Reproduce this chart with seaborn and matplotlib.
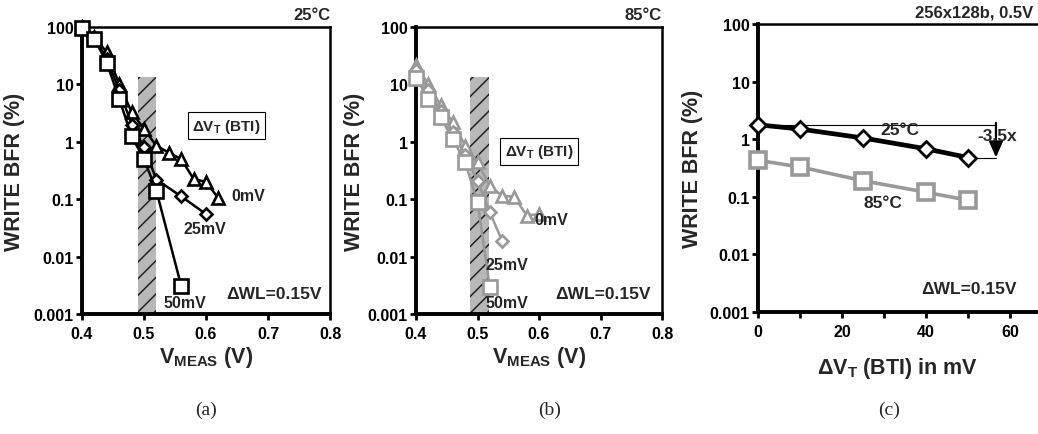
import numpy as np
import pandas as pd
import matplotlib
matplotlib.use("Agg")
import matplotlib.pyplot as plt
import seaborn as sns
from matplotlib.ticker import FixedLocator, FixedFormatter, NullLocator

# ---------------- data ----------------
# Panel (a) 25°C
a_v0 = [0.40, 0.42, 0.44, 0.46, 0.48, 0.50, 0.52, 0.54, 0.56, 0.58, 0.60, 0.62]
a_bfr0 = [100, 68, 36, 10.2, 3.3, 1.67, 0.85, 0.65, 0.5, 0.225, 0.2, 0.104]
a_v25 = [0.40, 0.42, 0.44, 0.46, 0.48, 0.50, 0.52, 0.56, 0.60]
a_bfr25 = [98, 65, 28, 8.0, 2.0, 0.8, 0.22, 0.112, 0.055]
a_v50 = [0.40, 0.42, 0.44, 0.46, 0.48, 0.50, 0.52, 0.56]
a_bfr50 = [95, 63, 23.6, 5.6, 1.25, 0.5, 0.14, 0.0031]

# Panel (b) 85°C
b_v0 = [0.40, 0.42, 0.44, 0.46, 0.48, 0.50, 0.52, 0.54, 0.56, 0.58, 0.60]
b_bfr0 = [22, 10.2, 4.3, 2.2, 0.86, 0.44, 0.17, 0.115, 0.11, 0.052, 0.055]
b_v25 = [0.40, 0.42, 0.44, 0.46, 0.48, 0.50, 0.52, 0.54]
b_bfr25 = [18, 8.0, 3.5, 1.5, 0.6, 0.21, 0.059, 0.019]
b_v50 = [0.40, 0.42, 0.44, 0.46, 0.48, 0.50, 0.52]
b_bfr50 = [13, 5.6, 2.67, 1.1, 0.44, 0.089, 0.003]

# Panel (c) 256x128b, 0.5V
c_dvt = [0, 10, 25, 40, 50]
c_bfr25C = [1.78, 1.5, 1.05, 0.68, 0.48]
c_bfr85C = [0.43, 0.33, 0.19, 0.12, 0.087]

y_ticks = [0.001, 0.01, 0.1, 1, 10, 100]
y_ticklabels = ["0.001", "0.01", "0.1", "1", "10", "100"]
vmeas_ticks = [0.4, 0.5, 0.6, 0.7, 0.8]
vmeas_ticklabels = ["0.4", "0.5", "0.6", "0.7", "0.8"]
dvt_ticks = [0, 20, 40, 60]
dvt_ticklabels = ["0", "20", "40", "60"]

# ---------------- style ----------------
sns.set_theme(style="ticks")
plt.rcParams["font.family"] = ["Liberation Sans", "DejaVu Sans"]
plt.rcParams["font.weight"] = "bold"
plt.rcParams["mathtext.fontset"] = "custom"
plt.rcParams["mathtext.rm"] = "Liberation Sans:bold"
plt.rcParams["mathtext.it"] = "Liberation Sans:bold"
plt.rcParams["mathtext.bf"] = "Liberation Sans:bold"
plt.rcParams["hatch.linewidth"] = 1.1

W, H = 1038, 435
fig = plt.figure(figsize=(W / 100, H / 100), dpi=100)

TICK_FS = 11.5
LAB_FS = 15.5
ANN_FS = 12.5


def px_axes(left, right, top, bottom):
    return fig.add_axes([left / W, (H - bottom) / H, (right - left) / W, (bottom - top) / H])


def style_axes(ax, show_right=True):
    ax.set_yscale("log")
    ax.set_ylim(0.001, 100)
    ax.yaxis.set_major_locator(FixedLocator(y_ticks))
    ax.yaxis.set_major_formatter(FixedFormatter(y_ticklabels))
    ax.yaxis.set_minor_locator(NullLocator())
    for s in ["left", "bottom"]:
        ax.spines[s].set_linewidth(2.8)
        ax.spines[s].set_color("black")
    ax.spines["top"].set_linewidth(1.8)
    ax.spines["top"].set_color("black")
    ax.spines["top"].set_visible(True)
    ax.spines["right"].set_visible(show_right)
    ax.spines["right"].set_linewidth(1.8)
    ax.spines["right"].set_color("black")
    ax.tick_params(axis="both", which="both", direction="out", length=4, width=2,
                   labelsize=TICK_FS, colors="black", pad=2)
    ax.tick_params(axis="x", pad=5)
    ax.set_facecolor("white")
    ax.grid(False)


def bold_ticks(ax):
    for lab in ax.get_xticklabels() + ax.get_yticklabels():
        lab.set_fontweight("bold")


def draw_series(ax, x, y, marker, color, ms, mew, lw, z):
    df = pd.DataFrame({"x": x, "y": y})
    sns.lineplot(data=df, x="x", y="y", ax=ax, color=color, lw=lw, marker=marker,
                 markersize=ms, markerfacecolor="white", markeredgecolor=color,
                 markeredgewidth=mew, zorder=z, clip_on=False, legend=False)


def vmeas_panel(ax, color, series, band, box_xy, labels, title, ylab_x, wl_x):
    style_axes(ax)
    ax.set_xlim(0.4, 0.8)
    ax.xaxis.set_major_locator(FixedLocator(vmeas_ticks))
    ax.xaxis.set_major_formatter(FixedFormatter(vmeas_ticklabels))
    ax.xaxis.set_minor_locator(NullLocator())
    # hatched band
    ax.fill_between(band[:2], [0.001, 0.001], [band[2], band[2]], facecolor="#b8b8b8",
                    edgecolor="#222222", hatch="//", linewidth=0, zorder=1)
    for (x, y, m, ms) in series:
        draw_series(ax, x, y, m, color, ms, 1.9, 1.8, 3)
    ax.text(box_xy[0], box_xy[1], "ΔV$_{\\mathrm{T}}$ (BTI)", fontsize=11, fontweight="bold",
            ha="center", va="center", zorder=5,
            bbox=dict(boxstyle="square,pad=0.3", fc="white", ec="black", lw=0.8))
    for (tx, ty, s) in labels:
        ax.text(tx, ty, s, fontsize=11.5, fontweight="bold", ha="center", va="center", zorder=6)
    ax.text(wl_x, 0.07, "ΔWL=0.15V", transform=ax.transAxes, fontsize=ANN_FS,
            fontweight="bold", ha="right", va="center")
    ax.text(1.0, 1.045, title, transform=ax.transAxes, fontsize=12, fontweight="bold",
            ha="right", va="center")
    ax.set_xlabel("V$_{\\mathrm{MEAS}}$ (V)", fontsize=LAB_FS, fontweight="bold")
    ax.set_ylabel("WRITE BFR (%)", fontsize=LAB_FS, fontweight="bold")
    ax.yaxis.set_label_coords(ylab_x, 0.5)
    ax.xaxis.set_label_coords(0.5, -0.105)
    bold_ticks(ax)


# ---------------- panel (a) ----------------
ax_a = px_axes(82, 330, 28, 315)
vmeas_panel(ax_a, "black",
            [(a_v0, a_bfr0, "^", 9), (a_v25, a_bfr25, "D", 6.5), (a_v50, a_bfr50, "s", 9.5)],
            (0.49, 0.52, 13.6), (0.633, 1.9),
            [(0.668, 0.118, "0mV"), (0.598, 0.031, "25mV"), (0.566, 0.0016, "50mV")],
            "25°C", -0.23, 0.965)

# ---------------- panel (b) ----------------
ax_b = px_axes(416, 662, 28, 315)
grey = "#999999"
vmeas_panel(ax_b, grey,
            [(b_v0, b_bfr0, "^", 9), (b_v25, b_bfr25, "D", 6.5), (b_v50, b_bfr50, "s", 9.5)],
            (0.488, 0.519, 13.6), (0.6, 0.68),
            [(0.62, 0.044, "0mV"), (0.547, 0.0074, "25mV"), (0.547, 0.0016, "50mV")],
            "85°C", -0.207, 0.955)

# ---------------- panel (c) ----------------
ax_c = px_axes(758, 1038, 25, 313)
style_axes(ax_c, show_right=False)
ax_c.set_xlim(0, 66.6)
ax_c.xaxis.set_major_locator(FixedLocator(dvt_ticks))
ax_c.xaxis.set_major_formatter(FixedFormatter(dvt_ticklabels))
ax_c.xaxis.set_minor_locator(FixedLocator([10, 30, 50]))
ax_c.tick_params(axis="x", which="minor", length=4, width=2)
bold_ticks(ax_c)

# reference lines and arrow
ax_c.plot([0, 56.6], [c_bfr25C[0], c_bfr25C[0]], color="black", lw=0.8, zorder=2)
ax_c.plot([50, 56.6], [c_bfr25C[-1], c_bfr25C[-1]], color="black", lw=0.8, zorder=2)
ax_c.annotate("", xy=(56.6, 0.43), xytext=(56.6, 2.15),
              arrowprops=dict(arrowstyle="-|>,head_width=0.35,head_length=0.8",
                              color="black", lw=1.6), zorder=2)
ax_c.text(56.8, 1.16, "-3.5x", fontsize=ANN_FS, fontweight="bold", ha="center", va="center",
          zorder=3)

draw_series(ax_c, c_dvt, c_bfr85C, "s", grey, 11.5, 2.6, 2.6, 3)
draw_series(ax_c, c_dvt, c_bfr25C, "D", "black", 8.5, 2.0, 3.4, 4)
ax_c.text(33.8, 1.45, "25°C", fontsize=ANN_FS, fontweight="bold", ha="center", va="center")
ax_c.text(29.7, 0.079, "85°C", fontsize=ANN_FS, fontweight="bold", ha="center", va="center")
ax_c.text(0.925, 0.08, "ΔWL=0.15V", transform=ax_c.transAxes, fontsize=ANN_FS,
          fontweight="bold", ha="right", va="center")
fig.text(1033 / W, (H - 13) / H, "256x128b, 0.5V", fontsize=12, fontweight="bold",
         ha="right", va="center")
ax_c.set_xlabel("ΔV$_{\\mathrm{T}}$ (BTI) in mV", fontsize=LAB_FS, fontweight="bold")
ax_c.set_ylabel("WRITE BFR (%)", fontsize=LAB_FS, fontweight="bold")
ax_c.yaxis.set_label_coords(-0.196, 0.5)
ax_c.xaxis.set_label_coords(0.5, -0.15)

# captions
for cx, s in [(206, "(a)"), (550, "(b)"), (889, "(c)")]:
    fig.text(cx / W, (H - 410) / H, s, fontsize=14, family=["Liberation Serif", "DejaVu Serif"],
             fontweight="normal", ha="center", va="center")

fig.savefig("out.png", dpi=100, facecolor="white")
